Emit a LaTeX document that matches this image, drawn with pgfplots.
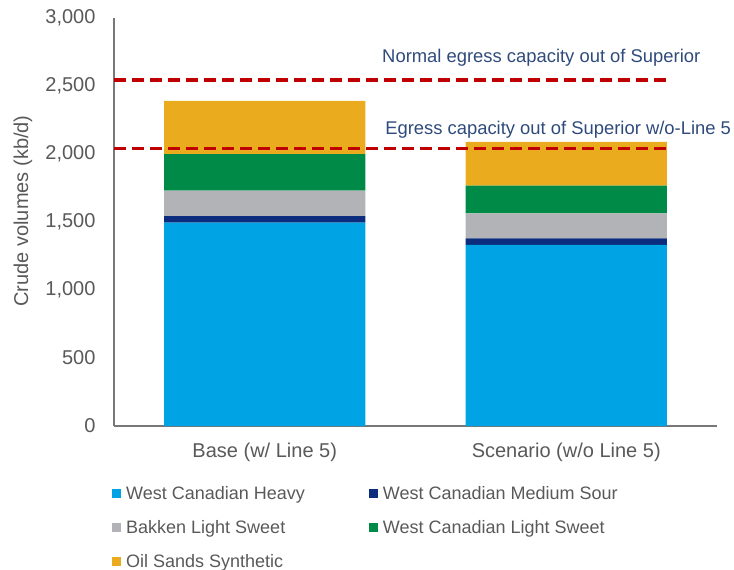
\documentclass[border=0pt]{standalone}
\usepackage{fontspec}
\setmainfont{Liberation Sans}
\usepackage{pgfplots}
\pgfplotsset{compat=1.18}
\definecolor{cHeavy}{RGB}{0,164,228}
\definecolor{cMed}{RGB}{12,45,125}
\definecolor{cBak}{RGB}{178,179,182}
\definecolor{cLight}{RGB}{0,138,72}
\definecolor{cSyn}{RGB}{234,172,30}
\definecolor{cRed}{RGB}{192,0,0}
\definecolor{cNote}{RGB}{47,74,124}
\definecolor{cTxt}{RGB}{89,89,89}
\definecolor{cAxis}{RGB}{120,120,120}
\begin{document}
\begin{tikzpicture}
\path[use as bounding box] (0,0) rectangle (734pt,-570pt);
\begin{axis}[
  at={(114pt,-426pt)}, anchor=south west,
  scale only axis, width=603pt, height=408pt,
  xmin=-0.5, xmax=1.5, ymin=0, ymax=3000,
  ybar stacked, bar width=0.667,
  axis x line*=bottom, axis y line*=left,
  axis line style={cAxis, line width=1.2pt},
  xtick={0,1}, xticklabels={Base (w/ Line 5), Scenario (w/o Line 5)},
  ytick={0,500,...,3000},
  major tick length=0pt,
  /pgf/number format/assume math mode=true,
  /pgf/number format/1000 sep={,},
  tick label style={font=\fontsize{20}{24}\selectfont, text=cTxt},
  yticklabel style={xshift=-15pt},
  xticklabel style={yshift=-13pt},
  ylabel={Crude volumes (kb/d)},
  every axis y label/.style={at={(axis description cs:-0.151,0.527)}, rotate=90, anchor=center, font=\fontsize{20}{24}\selectfont, text=cTxt},
  legend columns=2,
  legend cell align=left,
  legend style={at={(axis description cs:-0.0083,-0.137)}, anchor=north west, draw=none, fill=none,
     font=\fontsize{18}{21}\selectfont, text=cTxt, row sep=15.5pt,
     /tikz/every odd column/.append style={column sep=3pt},
     /tikz/every even column/.append style={column sep=62pt}},
  legend image code/.code={\fill[#1] (0pt,-4.5pt) rectangle (9pt,4.5pt);},
]
\addplot[fill=cHeavy, draw=none] coordinates {(0,1495) (1,1331)};
\addlegendentry{West Canadian Heavy}
\addplot[fill=cMed, draw=none] coordinates {(0,49) (1,49)};
\addlegendentry{West Canadian Medium Sour}
\addplot[fill=cBak, draw=none] coordinates {(0,186) (1,184)};
\addlegendentry{Bakken Light Sweet}
\addplot[fill=cLight, draw=none] coordinates {(0,270) (1,203)};
\addlegendentry{West Canadian Light Sweet}
\addplot[fill=cSyn, draw=none] coordinates {(0,390) (1,323)};
\addlegendentry{Oil Sands Synthetic}
\end{axis}
\begin{axis}[
  at={(114pt,-426pt)}, anchor=south west,
  scale only axis, width=603pt, height=408pt,
  xmin=-0.5, xmax=1.5, ymin=0, ymax=3000,
  hide axis, clip=false,
]
\addplot[cRed, line width=3.5pt, dash pattern=on 12pt off 6pt] coordinates {(-0.5,2545) (1.34,2545)};
\addplot[cRed, line width=3.5pt, dash pattern=on 12pt off 6pt] coordinates {(-0.5,2042) (1.34,2042)};
\node[anchor=base west, inner sep=0, text=cNote, font=\fontsize{18.4}{22}\selectfont] at (axis cs:0.389,2676) {Normal egress capacity out of Superior};
\node[anchor=base west, inner sep=0, text=cNote, font=\fontsize{18.4}{22}\selectfont] at (axis cs:0.399,2140) {Egress capacity out of Superior w/o-Line 5};
\end{axis}
\end{tikzpicture}
\end{document}
